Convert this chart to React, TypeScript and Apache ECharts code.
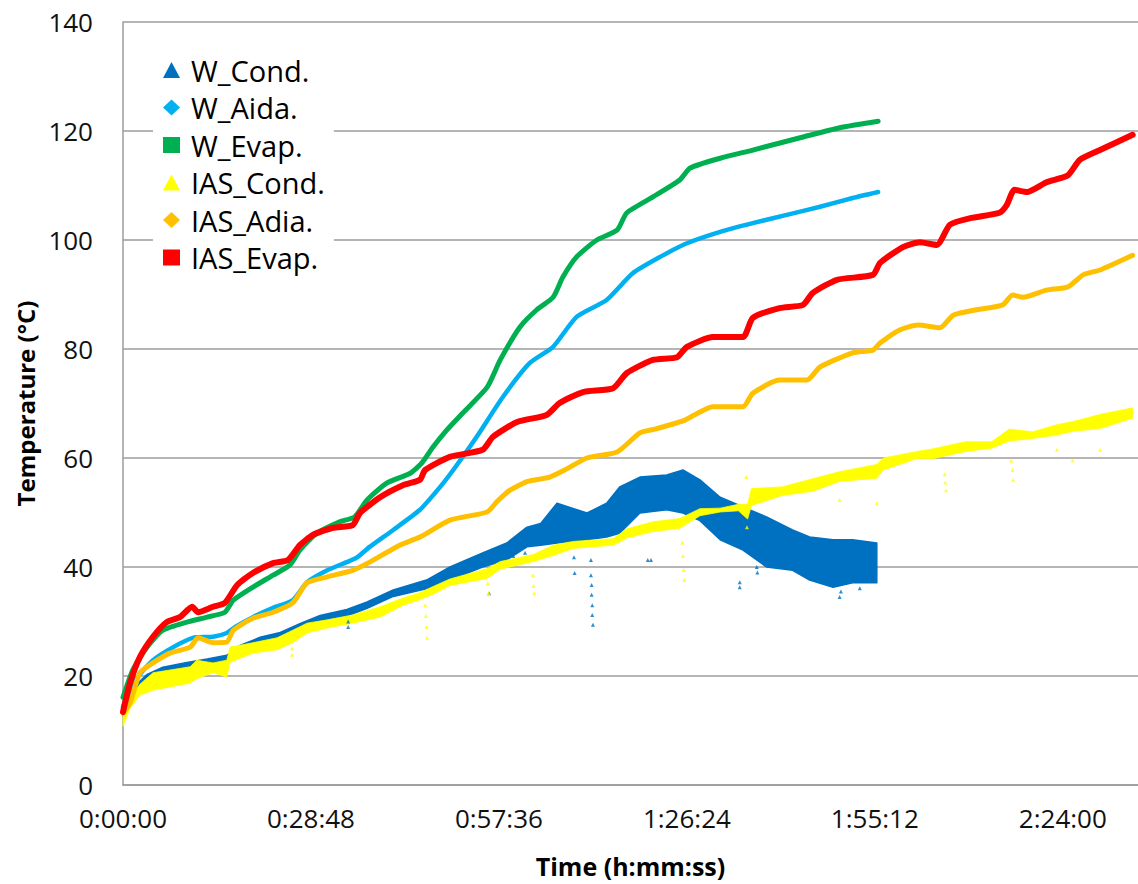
import React, { useEffect, useRef } from "react";
import * as echarts from "echarts";

const FONT = "'Open Sans', 'Noto Sans', 'DejaVu Sans', sans-serif";

// Time in minutes, temperature in °C
const xTicksMinutes = [0, 28.8, 57.6, 86.4, 115.2, 144];
const xMaxMinutes = 155.52;

// IAS_Evap. (red)
const iasEvap: number[][] = [
  [0, 13.4], [1.07, 18.7], [2.6, 23.5], [4.6, 27.2], [6.7, 29.9], [8.7, 30.8], [10.6, 32.7], [11.5, 31.7],
  [13.8, 32.7], [15.6, 33.4], [17.5, 36.7], [19.9, 38.9], [23.0, 40.7], [25.3, 41.3], [27.1, 44.0],
  [29.1, 45.9], [32.2, 47.2], [35.2, 47.7], [36.3, 49.9], [39.4, 52.8], [42.9, 55.0], [45.5, 56.0],
  [46.3, 57.8], [50.1, 60.2], [55.1, 61.5], [56.7, 63.9], [60.4, 66.6], [64.9, 67.9], [66.9, 70.1],
  [70.5, 72.1], [75.1, 72.8], [77.2, 75.6], [81.2, 78.0], [84.9, 78.5], [86.4, 80.4], [90.4, 82.2],
  [95.0, 82.2], [96.5, 85.7], [100.6, 87.5], [104.2, 88.1], [105.7, 90.3], [109.4, 92.7], [114.9, 93.6],
  [116.0, 95.8], [119.5, 98.7], [122.1, 99.6], [124.7, 99.1], [126.7, 102.8], [129.8, 104.0],
  [134.3, 105.0], [135.4, 106.4], [136.6, 109.2], [138.5, 108.8], [141.5, 110.6], [144.8, 111.9],
  [146.6, 114.7], [149.7, 116.5], [154.7, 119.3],
];

// W_Evap. (green)
const wEvap: number[][] = [
  [0, 16.1], [1.5, 21.1], [3.7, 25.3], [6.1, 28.4], [9.8, 29.9], [12.9, 30.8], [15.6, 31.7], [16.9, 33.9],
  [19.9, 36.3], [23.0, 38.5], [25.6, 40.4], [27.1, 43.1], [29.7, 46.2], [33.2, 48.3], [35.5, 49.2],
  [37.4, 52.3], [40.4, 55.4], [44.0, 57.2], [45.8, 59.1], [47.5, 62.0], [49.6, 65.1], [52.1, 68.3],
  [55.8, 73.0], [57.8, 78.0], [60.8, 84.0], [63.4, 87.2], [65.9, 89.5], [67.4, 93.2], [69.5, 96.9],
  [72.6, 100.0], [75.7, 101.8], [77.2, 105.0], [81.2, 107.9], [85.3, 111.0], [86.9, 113.2],
  [91.5, 115.0], [96.5, 116.5], [104.2, 118.9], [109.8, 120.6], [115.7, 121.8],
];

// W_Aida. (light blue)
const wAida: number[][] = [
  [0, 14.3], [1.5, 18.7], [4.6, 22.9], [7.7, 25.3], [10.7, 27.0], [13.8, 27.2], [15.9, 27.9], [17.2, 29.0],
  [19.9, 30.8], [23.0, 32.5], [26.0, 33.9], [28.2, 37.2], [31.3, 39.4], [34.3, 40.9], [35.8, 41.7],
  [37.8, 43.7], [41.4, 46.8], [45.5, 50.5], [48.6, 54.7], [50.6, 57.8], [54.2, 63.9], [58.2, 71.2],
  [62.3, 77.4], [65.9, 80.4], [69.5, 85.9], [74.1, 89.0], [78.1, 93.9], [82.3, 96.9], [86.4, 99.4],
  [91.5, 101.5], [96.5, 103.1], [101.7, 104.6], [106.8, 106.1], [111.8, 107.7], [115.7, 108.8],
];

// IAS_Adia. (orange)
const iasAdia: number[][] = [
  [0, 13.2], [1.07, 15.0], [2.6, 20.6], [4.6, 22.4], [7.2, 24.2], [10.3, 25.3], [11.5, 27.0], [13.8, 26.1],
  [15.9, 26.2], [16.9, 28.4], [19.9, 30.6], [23.0, 31.7], [26.0, 33.4], [28.2, 37.1], [31.3, 38.2],
  [35.2, 39.4], [37.8, 40.9], [42.4, 44.0], [45.5, 45.5], [50.1, 48.6], [55.8, 50.1], [57.3, 52.0],
  [59.3, 54.1], [62.0, 55.7], [65.4, 56.5], [68.0, 58.0], [71.1, 60.0], [75.7, 61.1], [79.2, 64.6],
  [81.5, 65.3], [85.8, 66.8], [90.4, 69.4], [95.0, 69.4], [96.5, 71.9], [100.6, 74.3], [104.8, 74.3],
  [106.8, 76.7], [111.8, 79.3], [114.9, 79.8], [116.0, 81.1], [119.0, 83.5], [121.8, 84.4],
  [125.2, 83.9], [127.2, 86.2], [130.8, 87.2], [134.8, 88.1], [136.3, 89.9], [137.9, 89.5],
  [141.5, 90.8], [144.8, 91.4], [147.1, 93.6], [149.7, 94.5], [154.7, 97.2],
];

// W_Cond. (dark blue) noisy band: upper and lower edges
const wCondTime = [0, 1.5, 3.7, 6.1, 9.8, 12.9, 15.9, 17.9, 21.0, 24.1, 27.1, 30.2, 34.3, 37.4, 41.4, 46.5, 50.1,
  55.1, 58.8, 61.9, 64.0, 66.5, 71.1, 74.1, 76.1, 79.2, 83.3, 85.8, 88.4, 91.5, 95.0, 98.6, 102.6, 105.2,
  108.8, 111.8, 115.5];
const wCondUpper = [13.6, 17.8, 20.3, 21.6, 22.5, 23.1, 23.8, 25.6, 27.1, 28.0, 29.6, 31.1, 32.2, 33.6, 35.8,
  37.6, 40.0, 42.6, 44.4, 47.3, 48.0, 51.7, 49.9, 51.7, 54.7, 56.5, 56.9, 57.8, 56.0, 52.8, 51.0, 49.2, 46.8,
  45.5, 45.0, 45.0, 44.4];
const wCondLower = [12.8, 17.0, 19.3, 20.6, 21.5, 22.1, 22.8, 24.6, 26.1, 27.0, 28.4, 30.1, 31.0, 32.4, 34.6,
  36.0, 37.6, 40.0, 41.3, 43.7, 44.0, 44.4, 45.0, 45.5, 46.2, 49.9, 50.5, 49.9, 48.5, 45.0, 43.1, 40.0, 39.4,
  37.6, 36.3, 37.1, 37.1];
const wCondOutliers: number[][] = [
  [34.5, 29.0], [34.5, 30.0], [56.1, 35.2], [59.7, 43.1], [59.8, 42.0], [61.6, 42.6], [69.1, 41.8],
  [69.2, 38.9], [71.7, 41.3], [71.7, 38.5], [71.8, 36.7], [71.8, 34.9], [71.9, 33.0], [71.9, 31.2],
  [72.0, 29.4], [80.4, 41.3], [80.9, 41.3], [94.5, 36.3], [94.5, 37.2], [97.1, 40.0], [97.2, 39.0],
  [109.8, 34.5], [110.0, 35.5], [112.9, 36.1],
];

// IAS_Cond. (yellow) noisy band: upper and lower edges
const iasCondTime = [0, 1.07, 2.6, 4.6, 7.2, 10.3, 11.3, 13.8, 15.9, 16.4, 19.9, 23.6, 26.0, 28.2, 31.3, 35.2,
  39.4, 42.9, 45.5, 47.5, 50.1, 55.8, 57.8, 62.9, 65.9, 69.0, 75.1, 77.2, 81.2, 85.3, 88.4, 91.5, 94.3, 95.7,
  96.3, 101.0, 105.7, 109.8, 115.5, 116.5, 121.7, 124.2, 129.1, 133.1, 135.8, 139.4, 143.1, 145.6, 149.7, 154.7];
const iasCondUpper = [12.5, 16.0, 18.5, 20.6, 21.1, 21.7, 22.9, 22.4, 22.9, 25.3, 26.1, 27.0, 28.4, 29.7, 30.3,
  31.2, 32.7, 34.3, 35.3, 36.4, 37.8, 39.7, 41.0, 42.3, 44.0, 44.7, 45.2, 47.0, 48.3, 48.9, 50.7, 50.8, 51.5,
  51.5, 54.4, 54.7, 56.2, 57.5, 58.8, 60.0, 61.2, 61.7, 63.0, 63.0, 65.3, 64.8, 66.1, 66.7, 68.0, 69.2];
const iasCondLower = [10.8, 14.0, 16.5, 17.4, 18.0, 18.7, 19.5, 20.6, 19.8, 22.5, 24.2, 24.8, 26.1, 27.9, 28.8,
  29.7, 30.8, 33.0, 34.0, 35.0, 36.6, 37.9, 39.6, 41.0, 42.1, 43.4, 44.0, 45.3, 46.5, 47.1, 49.4, 50.1, 50.3,
  48.8, 51.3, 53.1, 53.9, 55.7, 56.3, 57.8, 59.9, 59.9, 61.2, 61.8, 63.1, 63.6, 64.2, 64.9, 65.4, 67.3];
const iasCondOutliers: number[][] = [
  [25.9, 25.1], [25.9, 23.9], [46.3, 33.0], [46.4, 31.0], [46.5, 29.0], [46.6, 27.0], [55.9, 37.0],
  [56.0, 35.2], [62.8, 38.5], [62.9, 36.5], [63.0, 35.2], [85.7, 44.5], [85.8, 42.0], [85.9, 39.5],
  [86.0, 37.6], [95.6, 47.3], [95.5, 56.5], [109.8, 52.3], [115.5, 51.7], [125.9, 57.0], [126.0, 55.5],
  [126.1, 54.1], [136.1, 59.5], [136.3, 57.8], [136.4, 56.0], [143.1, 61.5], [145.5, 59.6], [149.7, 61.5],
];

const C_WCOND = "#0070C0";
const C_WAIDA = "#00B0F0";
const C_WEVAP = "#00B050";
const C_IASCOND = "#FFFF00";
const C_IASADIA = "#FFC000";
const C_IASEVAP = "#FF0000";

function fmtTime(v: number): string {
  const s = Math.round(v * 60);
  const h = Math.floor(s / 3600);
  const m = Math.floor((s % 3600) / 60);
  const sec = s % 60;
  return `${h}:${String(m).padStart(2, "0")}:${String(sec).padStart(2, "0")}`;
}

function bandSeries(name: string, times: number[], upper: number[], lower: number[], color: string, stroke: number) {
  return {
    type: "custom",
    name,
    coordinateSystem: "cartesian2d",
    silent: true,
    itemStyle: { color },
    data: [[times[0], lower[0]]],
    renderItem: (_params: any, api: any) => {
      const pts: number[][] = [];
      for (let i = 0; i < times.length; i++) pts.push(api.coord([times[i], upper[i]]));
      for (let i = times.length - 1; i >= 0; i--) pts.push(api.coord([times[i], lower[i]]));
      return {
        type: "polygon",
        shape: { points: pts },
        style: { fill: color, stroke: color, lineWidth: stroke, lineJoin: "round" },
      };
    },
  };
}

function lineSeries(name: string, data: number[][], color: string, width: number) {
  return {
    type: "line",
    name,
    data,
    showSymbol: false,
    symbol: "none",
    silent: true,
    smooth: 0.2,
    itemStyle: { color },
    lineStyle: { color, width, join: "round", cap: "round" },
  };
}

function scatterSeries(name: string, data: number[][], color: string) {
  return {
    type: "scatter",
    name,
    data,
    symbol: "triangle",
    symbolSize: 4,
    silent: true,
    itemStyle: { color },
  };
}

export default function App() {
  const ref = useRef<HTMLDivElement>(null);
  useEffect(() => {
    document.body.style.margin = "0";
    const chart = echarts.init(ref.current!, null, { renderer: "svg" });
    const gridColor = "#9c9c9c";
    chart.setOption({
      animation: false,
      backgroundColor: "#ffffff",
      grid: { left: 123, right: 0, top: 22, bottom: 99, containLabel: false },
      legend: {
        orient: "vertical",
        left: 153,
        top: 48,
        padding: [7, 9, 7, 10],
        backgroundColor: "#ffffff",
        itemWidth: 17,
        itemHeight: 16,
        itemGap: 7.5,
        selectedMode: false,
        textStyle: { fontFamily: FONT, fontSize: 29, color: "#000", lineHeight: 30, padding: [0, 0, 0, 6] },
        data: [
          { name: "W_Cond.", icon: "triangle" },
          { name: "W_Aida.", icon: "diamond" },
          { name: "W_Evap.", icon: "rect" },
          { name: "IAS_Cond.", icon: "triangle" },
          { name: "IAS_Adia.", icon: "diamond" },
          { name: "IAS_Evap.", icon: "rect" },
        ],
      },
      xAxis: {
        type: "value",
        min: 0,
        max: xMaxMinutes,
        interval: xTicksMinutes[1] - xTicksMinutes[0],
        axisLine: { show: true, lineStyle: { color: gridColor, width: 1.5 } },
        axisTick: { show: false },
        splitLine: { show: false },
        axisLabel: {
          fontFamily: FONT,
          fontSize: 26,
          color: "#111",
          margin: 20,
          showMaxLabel: false,
          formatter: (v: number) => fmtTime(v),
        },
        name: "Time (h:mm:ss)",
        nameLocation: "middle",
        nameGap: 68,
        nameTextStyle: { fontFamily: FONT, fontSize: 25, fontWeight: "bold", color: "#000" },
      },
      yAxis: {
        type: "value",
        min: 0,
        max: 140,
        interval: 20,
        axisLine: { show: true, lineStyle: { color: gridColor, width: 1.5 } },
        axisTick: { show: false },
        splitLine: { show: true, lineStyle: { color: gridColor, width: 1.5 } },
        axisLabel: { fontFamily: FONT, fontSize: 26, color: "#111", margin: 30 },
        name: "Temperature (°C)",
        nameLocation: "middle",
        nameGap: 84,
        nameTextStyle: { fontFamily: FONT, fontSize: 24, fontWeight: "bold", color: "#000" },
      },
      series: [
        bandSeries("W_Cond.", wCondTime, wCondUpper, wCondLower, C_WCOND, 1.5),
        scatterSeries("W_Cond.", wCondOutliers, C_WCOND),
        lineSeries("W_Aida.", wAida, C_WAIDA, 4.5),
        lineSeries("W_Evap.", wEvap, C_WEVAP, 5),
        bandSeries("IAS_Cond.", iasCondTime, iasCondUpper, iasCondLower, C_IASCOND, 0.8),
        scatterSeries("IAS_Cond.", iasCondOutliers, C_IASCOND),
        lineSeries("IAS_Adia.", iasAdia, C_IASADIA, 5),
        lineSeries("IAS_Evap.", iasEvap, C_IASEVAP, 6),
      ],
    });
    return () => chart.dispose();
  }, []);
  return <div ref={ref} style={{ width: 1138, height: 884, background: "#fff" }} />;
}
